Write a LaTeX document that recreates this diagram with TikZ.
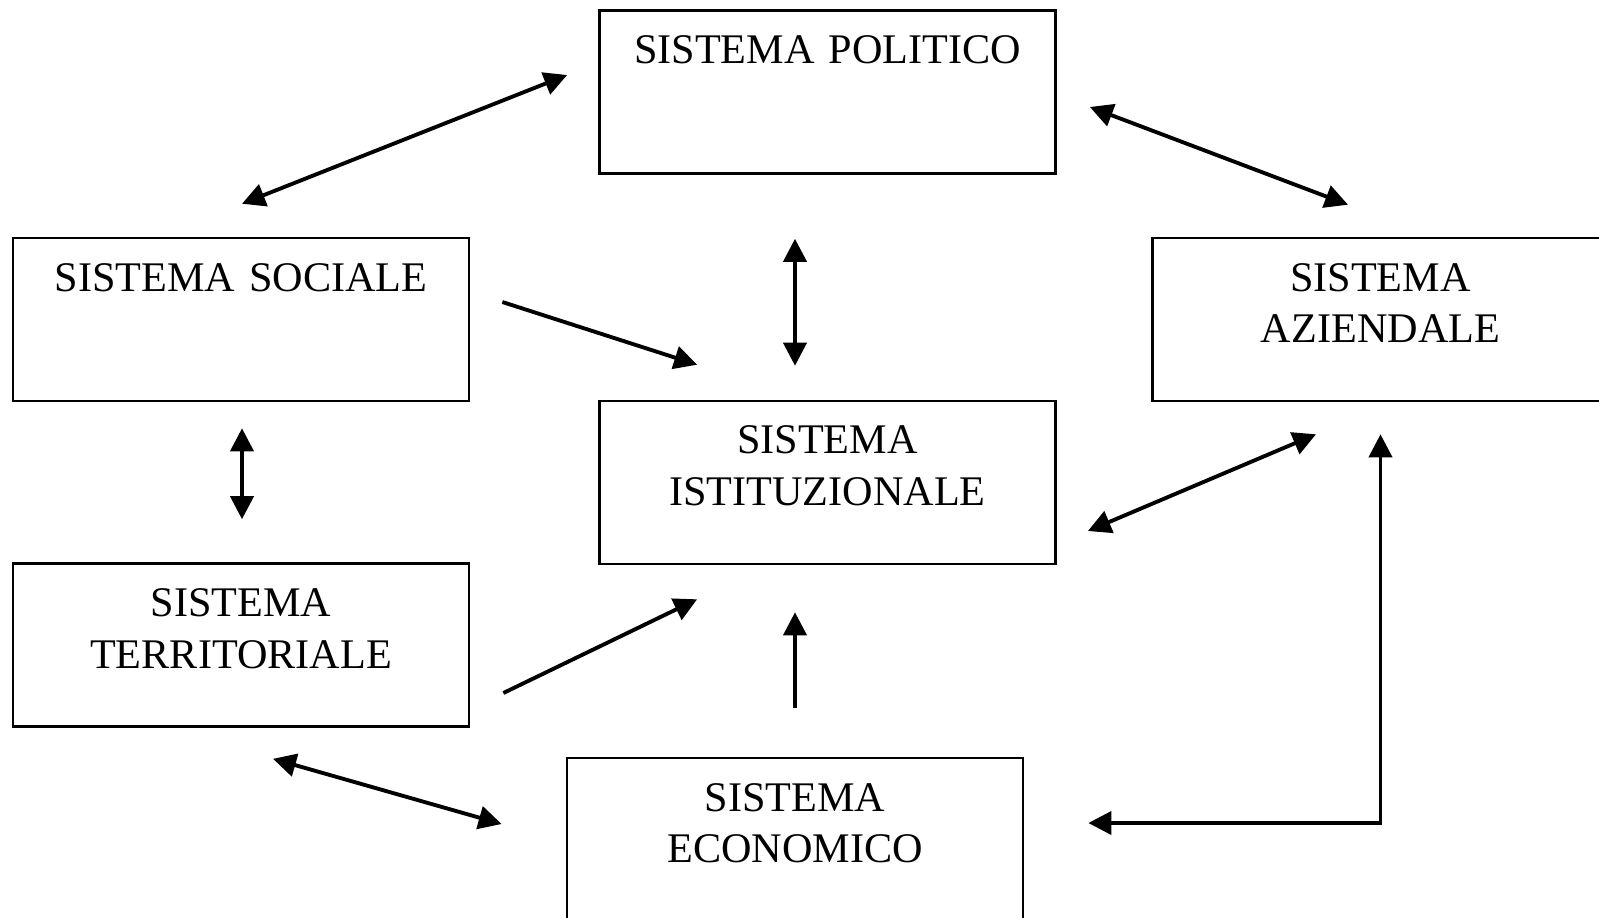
\documentclass[tikz,border=0pt]{standalone}
\usepackage{fontspec}
\setmainfont{Liberation Serif}
\usetikzlibrary{positioning, calc, arrows.meta}
\tikzstyle{Box} = [
draw, line width=0.7pt,
inner sep=0pt, text width=4.56cm, align=center,
text height=0.53cm, text depth=1.10cm,
font=\fontsize{12}{14.7}\selectfont]
\tikzstyle{Arrow} = [
line width=1.1pt,
-{Triangle[length=0.23cm, width=0.23cm]}]
\tikzstyle{Both} = [
line width=1.1pt,
{Triangle[length=0.23cm, width=0.23cm]}-{Triangle[length=0.23cm, width=0.23cm]}]

\begin{document}
\begin{tikzpicture}[x=0.01cm, y=-0.01cm]
    \clip (0,0) rectangle (1599,917);

    \node[Box] (pol) at (827.5,92) {SISTEMA POLITICO};
    \node[Box] (soc) at (241,319.5) {SISTEMA SOCIALE};
    \node[Box] (azi) at (1380.5,319.5) {SISTEMA\\AZIENDALE};
    \node[Box] (ist) at (827.5,482.5) {SISTEMA\\ISTITUZIONALE};
    \node[Box] (ter) at (241,645) {SISTEMA\\TERRITORIALE};
    \node[Box] (eco) at (795,839.5) {SISTEMA\\ECONOMICO};

    \draw[Both] ([shift={(1,-33)}]soc.north) -- ([shift={(-31,-17)}]pol.west);
    \draw[Both] ([shift={(33,15)}]pol.east) -- ([shift={(-32.5,-32)}]azi.north);
    \draw[Both] ([shift={(-32.5,64)}]pol.south) -- ([shift={(-32.5,-34)}]ist.north);
    \draw[Arrow] ([shift={(32,-17.5)}]soc.east) -- ([shift={(99,-35)}]ist.north west);
    \draw[Both] ([shift={(1,26)}]soc.south) -- ([shift={(1,-43)}]ter.north);
    \draw[Both] ([shift={(31,48.5)}]ist.east) -- ([shift={(-64.5,32)}]azi.south);
    \draw[Both] ([shift={(0,32)}]azi.south) |- ([shift={(64,-16.5)}]eco.east);
    \draw[Arrow] ([shift={(33,48)}]ter.east) -- ([shift={(99,34)}]ist.south west);
    \draw[Arrow] ([shift={(0,-49)}]eco.north) -- ([shift={(-32.5,47)}]ist.south);
    \draw[Both] ([shift={(32,31)}]ter.south) -- ([shift={(-64,-15.5)}]eco.west);
\end{tikzpicture}
\end{document}
